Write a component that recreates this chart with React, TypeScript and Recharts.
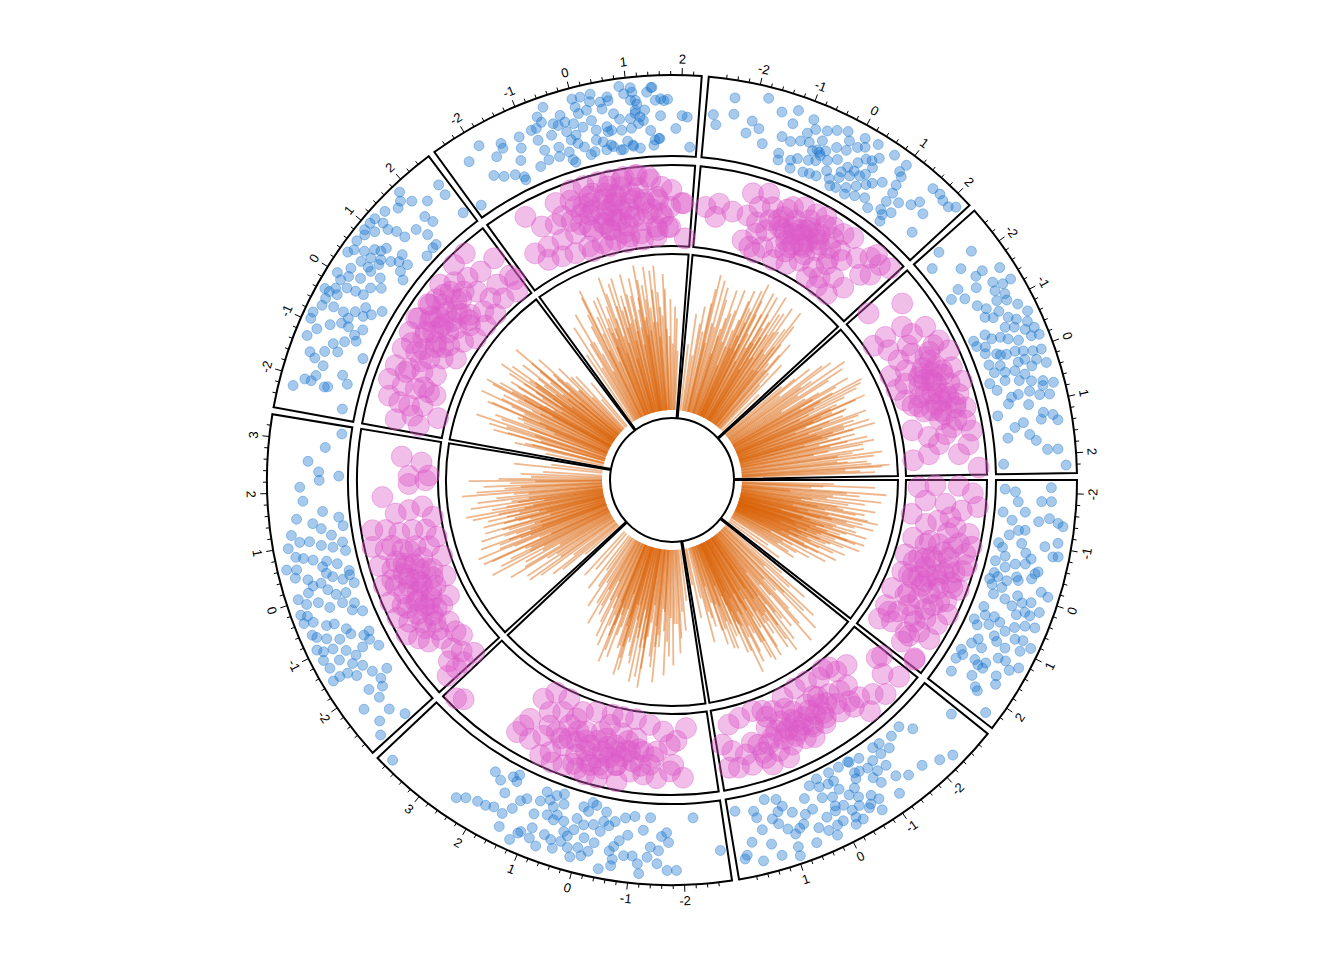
import React from 'react'
import { PieChart, Pie, ScatterChart, Scatter, XAxis, YAxis } from 'recharts'

const W = 1344
const H = 960
const CX = 672
const CY = 480

// sectors clockwise from 3 o'clock, x range of each
const sectors = ['a', 'b', 'c', 'd', 'e', 'f', 'g', 'h']
const xMin = [-2.12, -2.92, -2.71, -2.88, -2.53, -2.5, -2.79, -2.56]
const xMax = [2.31, 1.99, 3.87, 3.27, 2.51, 2.22, 2.17, 2.23]

// track borders in px: points, bubbles, lines
const trackOuter = [405, 315, 226]
const trackInner = [324, 234, 62]
const PAD_R = 8
const GAP_DEG = 1
const PAD_DEG = 1

const blueA = [[-2.05,.02],[-2.0,.18],[-1.8,.23],[-1.83,.59],[-1.84,.74],[-2.1,.73],[-1.56,.01],[-1.41,.16],[-1.22,.28],[-1.24,.38],[-0.97,.36],[-1.44,.57],[-1.52,.73],[-1.45,.87],[-1.4,.95],[-1.09,.91],[-0.83,.87],[-0.85,.95],[-0.99,.72],[-0.71,.55],[-0.5,.7],[-0.45,.66],[-0.59,.48],[-0.54,.33],[-0.43,.19],[-0.26,.05],[-0.9,.01],[-0.82,.08],[-0.51,.02],[-0.11,.01],[-0.01,.07],[-0.01,.23],[-0.17,.27],[-0.24,.44],[-0.34,.63],[-0.15,.83],[-0.1,.95],[0.09,.73],[0.3,.69],[0.27,.47],[0.19,.33],[0.17,.14],[0.49,.07],[0.64,.14],[0.81,.01],[0.9,.09],[0.79,.25],[0.66,.39],[0.78,.52],[0.64,.63],[0.54,.77],[0.33,.78],[0.21,.9],[0.84,.71],[0.8,.83],[0.87,.99],[1.0,.86],[1.07,.63],[1.03,.47],[1.28,.31],[1.29,.14],[1.51,.05],[1.73,.05],[1.59,.11],[1.55,.31],[1.61,.39],[1.5,.48],[1.3,.61],[1.28,.73],[1.28,.96],[1.62,.48],[1.61,.72],[2.0,.54],[2.04,.6],[1.75,.78],[2.01,.1],[2.28,.9],
  [-0.3,.4],[0.05,.5],[0.4,.58],[0.6,.28],[-0.65,.15],[1.15,.2],[0.95,.4],[-1.1,.15],[0.15,.6],[-0.8,.45],[1.4,.85],[0.5,.92],[-0.2,.12],[1.85,.4],[-1.6,.35]]
const blueB = [[-2.9,.5],[-2.16,.22],[-1.98,.05],[-1.73,.08],[-1.43,.05],[-1.27,.04],[-1.54,.2],[-1.33,.19],[-1.11,.2],[-1.07,.37],[-0.92,.42],[-1.27,.38],[-0.94,.25],[-0.76,.22],[-0.66,.2],[-0.62,.29],[-0.68,.02],[-0.66,0],[-0.43,0],[-0.19,0],[0.1,0],[0.3,.05],[0.12,.13],[-0.07,.15],[-0.22,.3],[-0.34,.45],[-0.48,.55],[-0.7,.63],[-0.79,.74],[-0.73,.91],[-0.61,.74],[-0.41,.67],[-0.25,.68],[-0.15,.55],[-0.03,.36],[0.16,.3],[0.43,.4],[0.6,.43],[0.83,.33],[0.98,.19],[1.06,.06],[1.3,.01],[1.58,.14],[1.55,.25],[1.96,.08],[1.25,.33],[1.16,.43],[1.02,.55],[0.91,.66],[0.7,.56],[0.46,.7],[0.31,.8],[0.12,.78],[-0.01,.76],[-0.19,.9],[0.24,.6],[0.04,.57],[1.4,.7],[1.27,.91],[0.94,.86],[0.96,1.0],[1.89,.78],[1.62,.92],[1.94,.83],[-1.81,.73],[-2.12,.85],[-2.35,.94],[-1.5,.71],[-1.16,.85],[-0.25,.8],
  [-0.5,.4],[-0.2,.15],[0.5,.2],[0.8,.6],[-1.0,.55],[-0.35,.88],[1.1,.25],[0.2,.92],[-1.3,.6],[0.6,.9],[-0.9,.05],[1.5,.45],[0,.5],[-0.55,.78],[1.75,.6]]
const blueC = [[3.78,.98],[2.08,.14],[1.9,.21],[1.7,.07],[1.6,0],[1.59,.11],[2.08,.67],[1.91,.66],[1.76,.62],[1.56,.65],[1.43,.51],[1.35,.35],[1.25,.28],[0.98,.23],[0.92,.06],[0.8,.16],[0.7,.06],[0.56,0],[0.69,.24],[0.75,.39],[0.56,.34],[0.6,.43],[0.4,.4],[0.16,.3],[0.09,.1],[-0.03,.15],[-0.08,0],[-0.17,.03],[0,.37],[-0.19,.33],[-0.38,.25],[-0.61,.22],[-0.81,.14],[-1.0,.1],[-1.33,.1],[-1.67,.32],[-1.71,.47],[-1.57,.38],[-1.52,.6],[-1.31,.71],[-1.14,.82],[-1.03,.71],[-0.87,.72],[-0.66,.6],[-0.59,.68],[-0.67,.8],[-0.66,.9],[-0.45,.98],[-0.09,.84],[0,.73],[0.19,.77],[0.34,.71],[0.53,.73],[0.67,.69],[0.34,.55],[0.16,.48],[-0.07,.56],[-0.28,.6],[-0.35,.41],[1.23,.96],[1.14,.82],[0.91,.82],[0.93,.66],[-1.18,.97],[-1.69,.9],[-1.36,.55],[1.1,.78],[-2.22,.1],[-2.7,.64],[-1.86,.9],[2.3,.72],[2.45,.8],
  [-0.5,.3],[0.25,.6],[0.5,.15],[-0.9,.4],[1.0,.45],[-0.2,.75],[0.75,.9],[-1.2,.3],[1.5,.85],[-0.4,.1],[0.1,.9],[1.7,.35],[-1.5,.8],[0.45,.85],[-0.75,.5]]
const blueD = [[1.83,.58],[1.6,.29],[1.38,.46],[1.26,.34],[1.45,.05],[1.26,0],[1.21,.81],[0.98,.89],[1.06,.7],[1.04,.55],[0.93,.38],[0.85,.21],[0.92,.05],[0.73,.03],[0.75,.69],[0.68,.55],[0.51,.43],[0.37,.4],[0.57,.83],[0.61,.98],[0.43,.88],[0.34,.7],[0.2,.65],[0.21,.52],[0.27,.32],[0.16,.18],[0.21,.06],[0.02,.03],[-0.12,.2],[-0.09,.35],[0.05,.45],[0.04,.93],[-0.09,.83],[-0.13,.65],[-0.29,.51],[-0.29,.3],[-0.38,.13],[-0.6,.06],[-0.24,.97],[-0.4,.97],[-0.44,.83],[-0.59,.66],[-0.62,.54],[-0.72,.87],[-0.82,.74],[-0.93,.56],[-0.93,.37],[-1.07,.2],[-1.04,.1],[-1.27,.3],[-1.4,.07],[-0.93,.95],[-1.01,.87],[-1.04,.72],[-1.18,.55],[-1.35,.45],[-1.15,.93],[-1.33,.9],[-1.28,.71],[-1.46,.56],[-1.59,.44],[-1.57,.7],[-1.55,.83],[-1.56,.95],[-1.79,.36],[-2.0,.31],[-2.15,.36],[-2.05,.56],[-2.29,.5],[-2.59,.49],[-2.86,.35],[-2.65,.72],[-2.86,.85],[2.4,.33],[2.23,.32],[2.32,.02],[3.22,.02],[2.6,.5],[2.1,.62],[2.9,.25],
  [-0.5,.2],[0.1,.75],[-0.8,.4],[0.5,.2],[-1.2,.15],[0.8,.8],[-0.3,.88],[1.5,.7],[-1.7,.6],[0.3,.05],[-2.3,.8],[1.1,.2],[-0.65,.92],[0.6,.35],[-1.9,.15]]
const blueE = [[-2.43,.08],[-2.03,.75],[-2.03,.65],[-1.91,.6],[-2.08,.43],[-2.06,.38],[-1.69,.54],[-1.75,.21],[-1.28,0],[-1.34,.4],[-1.42,.59],[-1.52,.8],[-1.22,.51],[-1.1,.36],[-0.9,.26],[-0.73,.18],[-1.26,.93],[-1.08,.83],[-0.91,.67],[-0.79,.52],[-0.65,.46],[-0.48,.27],[-0.37,.17],[-0.47,.41],[-0.58,.57],[-0.58,.74],[-0.65,.91],[-0.95,.98],[-0.83,.99],[-0.37,.91],[-0.35,.78],[-0.15,.7],[-0.12,.56],[-0.1,.43],[0.09,.39],[0.36,.35],[0.56,.49],[0.36,.53],[0.14,.6],[0.05,.77],[-0.08,.85],[-0.26,.85],[-0.36,.99],[-0.51,.91],[0.2,.81],[0.41,.74],[0.57,.65],[0.66,.51],[0.75,.37],[0.85,.27],[0.91,.14],[0.71,.16],[0.6,.79],[0.74,.68],[0.79,.59],[0.51,.93],[0.41,.99],[0.67,.98],[0.84,.94],[1.0,.85],[1.22,.84],[1.19,.72],[1.27,.6],[0.91,.99],[1.06,.99],[1.18,.98],[1.4,.94],[1.61,.83],[1.88,.76],[1.86,.45],[1.65,.22],[1.63,.02],[1.53,.02],[1.32,0],[1.56,.4],[1.83,.99],[1.73,.88],[2.46,.68],[2.44,.5],[1.91,.31],[2.5,.11],
  [-0.3,.3],[0.2,.25],[0.4,.6],[-0.8,.4],[1.0,.3],[-1.0,.2],[0,.95],[1.3,.45],[-1.6,.7],[-0.2,.05],[0.6,.05],[-2.2,.9],[2.1,.6],[0.9,.55],[-1.9,.1]]
const blueF = [[-2.48,.04],[-1.89,.83],[-1.51,.7],[-1.52,.62],[-1.76,.23],[-1.93,.32],[-1.54,.17],[-1.31,.33],[-1.39,.08],[-1.39,.03],[-1.15,.67],[-0.89,.69],[-0.54,.96],[-0.66,.75],[-0.79,.69],[-0.84,.51],[-0.79,.33],[-0.56,.51],[-0.38,.62],[-0.24,.64],[-0.26,.49],[-0.22,.35],[-0.11,.27],[0,.19],[0.1,.05],[0.19,.08],[0.07,.49],[-0.09,.58],[0.05,.71],[0.21,.73],[0.26,.56],[0.31,.4],[0.27,.25],[0.44,.07],[0.59,.1],[0.79,.03],[1.01,.06],[1.15,.02],[1.44,.05],[1.55,.15],[1.39,.28],[1.16,.4],[1.01,.49],[1.01,.34],[1.12,.61],[1.16,.7],[1.05,.77],[0.94,.88],[0.87,1.0],[0.63,.87],[0.49,.81],[0.34,.96],[0.15,.95],[0.02,.82],[-0.29,.76],[-0.46,.67],[0.5,.7],[0.7,.6],[0.61,.35],[-0.55,.16],[-0.33,.18],[-0.78,.17],[-0.99,.12],[1.44,.94],[1.61,.76],[1.74,.75],[0.53,.42],[-0.26,0],[1.26,.44],[0.64,.81],[1.07,.96],[1.09,.89],[1.14,.76],[1.36,.87],[1.46,.94],[1.51,.74],[1.67,.73],[2.02,.5],[2.12,.48],[2.2,.02],[1.11,.56],[1.2,.5],[1.47,.13],[1.57,.15],[1.0,.08],[0.74,.03],[0.55,.13],[0.54,.34],[0.81,.33],
  [-0.5,.3],[0.4,.2],[-0.1,.4],[0.8,.5],[-1.2,.5],[0.3,.85],[-0.7,.85],[1.3,.6],[-1.7,.55],[0,.95],[1.9,.3],[-2.2,.7],[0.9,.15],[-0.3,.05],[1.6,.5]]
const blueG = [[-1.8,.95],[-1.22,.9],[-2.76,.55],[-2.69,.4],[-2.37,.6],[-2.0,.55],[-1.84,.46],[-2.07,.35],[-1.24,.68],[-1.36,.44],[-1.17,.41],[-0.99,.47],[-0.92,.62],[-0.8,.72],[-0.59,.77],[-0.43,.84],[-0.24,.9],[-0.14,.78],[-0.11,.63],[0.05,.75],[0.09,.93],[0.17,.81],[-0.7,.4],[-0.56,.42],[-0.46,.48],[-0.82,.5],[-1.32,.18],[-1.29,.08],[-1.04,.14],[-0.92,.2],[-0.7,.24],[-0.56,.28],[-0.35,.36],[-0.18,.44],[0.07,.41],[0.22,.41],[0.3,.66],[0.41,.69],[0.49,.6],[0.44,.46],[0.36,.39],[0.19,.31],[0.02,.21],[-0.07,.03],[0.06,.05],[0.25,.13],[0.41,.23],[0.56,.33],[0.65,.4],[-0.99,.02],[-0.71,.04],[-0.57,.06],[-0.42,.07],[-0.27,.21],[0.29,.03],[0.49,.09],[0.69,.15],[0.86,.05],[1.24,0],[1.19,.1],[1.31,.21],[1.09,.3],[1.09,.46],[1.05,.59],[1.03,.74],[0.98,.93],[0.7,.95],[0.95,.79],[1.51,.5],[1.6,.62],[1.8,.52],[1.62,.91],[1.78,.92],[1.9,.88],[2.05,.87],[2.15,.95],[-0.62,.44],[-0.52,.38],
  [-0.3,.6],[0.2,.55],[-0.6,.6],[0,.3],[0.5,.78],[-1.5,.8],[0.8,.5],[-0.9,.85],[1.3,.4],[-0.15,.12],[0.35,.95],[-1.7,.25],[1.1,.15],[-2.4,.85],[1.9,.2]]
const blueH = [[-2.53,.29],[-2.15,.69],[-2.36,.05],[-1.69,.18],[-1.45,.19],[-1.59,.01],[-1.71,.52],[-1.73,.65],[-1.52,.43],[-1.44,.69],[-1.32,.81],[-1.32,.95],[-1.28,.65],[-1.14,.76],[-1.02,.74],[-0.86,.86],[-1.1,.6],[-1.06,.4],[-0.92,.32],[-0.84,.43],[-0.72,.64],[-0.62,.74],[-0.67,.95],[-0.57,.53],[-0.5,.66],[-0.38,.8],[-0.35,.94],[-0.34,.5],[-0.24,.64],[-0.23,.85],[-0.2,.97],[-0.58,0],[-0.45,.01],[-0.37,.13],[-0.47,.27],[-0.43,.4],[-0.24,.09],[-0.15,.25],[-0.07,.39],[-0.07,.53],[-0.02,.65],[0.04,.79],[0.06,.92],[0.15,.52],[0.14,.63],[0.21,.8],[0.32,.93],[0.01,.08],[0.1,.24],[0.26,.28],[0.29,.43],[0.41,.56],[0.57,.63],[0.62,.8],[0.71,.78],[0.89,.85],[0.39,0],[0.57,.08],[0.42,.24],[0.78,.27],[0.76,.38],[0.75,.56],[0.86,.7],[1.1,0],[1.4,.23],[1.58,.44],[1.71,.53],[1.33,.37],[1.9,.69],[1.91,.85],[1.38,.9],[1.27,.84],[1.32,.65],[2.14,0],[2.21,.96],
  [-0.6,.2],[0.2,.12],[-0.9,.55],[0.5,.45],[-0.1,.3],[1.0,.5],[-1.6,.9],[0.9,.2],[-2.0,.4],[1.2,.7],[0.3,.7],[-0.5,.88],[1.6,.1],[-1.2,.3],[0.7,.95]]

const pinkA = [[-2.04,.07],[-2.1,.33],[-2.1,.69],[-1.93,.91],[-1.62,1],[-1.5,.76],[-1.63,.5],[-1.67,.19],[-1.25,0],[-1.03,.24],[-1.17,.42],[-1.07,.7],[-0.97,.92],[-0.69,1],[-0.49,.93],[-0.57,.72],[-0.57,.5],[-0.49,.3],[-0.58,.09],[-0.06,.05],[-0.08,.26],[-0.13,.52],[-0.07,.75],[-0.09,.96],[-0.24,1],[0.44,.09],[0.5,.27],[0.45,.47],[0.33,.66],[0.36,.9],[0.35,1],[0.99,.05],[1.0,.28],[0.93,.48],[0.93,.73],[0.71,.89],[1.51,.09],[1.49,.3],[1.39,.52],[1.3,.72],[1.94,.11],[1.81,.3],[1.85,.57],[1.66,.74],[1.29,.92],[0.97,1],[2.1,.6],[2.25,.91],[1.88,.64],[1.68,.93],[1.63,.18],[2.28,.92],[0.2,.6],[0.5,.7],[-0.3,.7],[0.7,.6],[0.1,.4],[-0.6,.35],[0.4,.35],[1.1,.65],[-0.9,.6],[0,.85],
  [-0.2,.45],[0.3,.5],[0.6,.45],[-0.4,.6],[0.1,.7],[0.8,.8],[-0.7,.8],[0.45,.2],[0.05,.2],[1.2,.4],[-1.3,.6],[0.25,.85],[-0.1,.35],[0.9,.3],[1.5,.6]]
const pinkB = [[-2.9,.49],[-2.77,.45],[-2.78,.9],[-2.27,.93],[-2.05,.79],[-1.75,.69],[-1.5,.64],[-1.47,.42],[-1.74,.16],[-2.07,.19],[-1.65,.04],[-1.24,.07],[-0.87,0],[-0.48,0],[-0.04,.03],[0.39,.15],[0.65,.09],[0.92,.04],[1.34,.08],[1.68,.14],[1.96,.42],[1.74,.55],[1.43,.65],[1.06,.56],[0.66,.53],[0.27,.52],[-0.03,.6],[-0.41,.61],[-0.78,.63],[-1.16,.68],[-0.52,.3],[-0.11,.29],[-0.82,.4],[-1.19,.36],[-0.1,.75],[0.26,.75],[0.62,.76],[0.98,.79],[1.34,.83],[1.67,.82],[1.9,.79],[0.88,.92],[0.46,.91],[-0.82,.25],[-1.47,0],[-1.71,.43],[-1.73,.96],[-2.57,.68],[-0.6,.5],[-0.3,.45],[0,.4],[0.3,.35],[-0.8,.55],[0.5,.45],[-0.4,.65],[0.1,.65],[0.7,.35],[-1.0,.45],
  [-0.7,.7],[-0.2,.55],[0.2,.5],[0.4,.62],[-0.5,.4],[-1.2,.55],[0.8,.6],[-0.9,.3],[0.05,.2],[1.2,.5],[-1.5,.75],[0.6,.2],[-0.3,.8],[1.0,.7],[-0.05,.45]]
const pinkC = [[1.99,.18],[1.76,0],[1.33,0],[1.33,.22],[1.66,.31],[2.02,.55],[2.08,.69],[2.13,.83],[1.78,.82],[1.52,.68],[1.26,.54],[1.02,.36],[0.82,.1],[0.45,.03],[-0.02,0],[-0.33,0],[-0.72,0],[-1.14,.06],[-1.53,.15],[-1.72,.35],[-1.38,.46],[-1.03,.48],[-0.69,.5],[-0.35,.54],[-0.02,.59],[0.35,.55],[0.7,.56],[0.98,.69],[1.2,.86],[1.39,.97],[1.08,1],[0.8,.97],[0.48,.95],[0.2,.84],[-0.12,.84],[-0.42,.74],[-0.76,.81],[-1.09,.83],[-1.41,.87],[-1.73,.76],[-0.49,.99],[-0.03,1],[0.27,1],[-0.02,.38],[0.54,.37],[0.92,.23],[-0.02,.16],[-0.81,.29],[-1.23,.67],[3.75,1],[3.61,.93],[-2.18,.1],[-1.9,.29],[-2.04,.86],[-1.81,.66],[-0.5,.6],[-0.2,.65],[0.1,.7],[0.4,.65],[-0.8,.65],[0.6,.75],[-0.3,.45],[0.2,.45],[-0.6,.35],[0.9,.55],
  [-0.4,.75],[0,.8],[0.3,.8],[-0.6,.5],[-0.1,.5],[0.5,.5],[-1.0,.7],[0.75,.4],[-1.3,.55],[1.1,.6],[-0.9,.45],[0.15,.3],[-0.4,.25],[1.5,.5],[0.6,.9]]
const pinkD = [[2.13,.33],[2.23,.07],[1.82,.74],[1.38,.56],[1.43,.35],[1.49,.14],[1.16,0],[1.06,.95],[1.01,.75],[0.88,.55],[0.89,.34],[0.83,.14],[0.56,0],[0.68,1],[0.55,.81],[0.45,.56],[0.45,.35],[0.35,.15],[-0.02,0],[0.21,.97],[0.05,.79],[0.02,.58],[-0.17,.4],[-0.28,.21],[-0.6,.06],[-0.25,1],[-0.35,.83],[-0.48,.64],[-0.6,.45],[-0.74,.26],[-1.15,.14],[-0.66,1],[-0.85,.85],[-0.91,.64],[-1.13,.48],[-1.3,.3],[-1.06,1],[-1.27,.87],[-1.43,.7],[-1.59,.52],[-1.77,.34],[-2.09,.34],[-1.5,1],[-1.73,.87],[-1.92,.77],[-2.04,.57],[-2.39,.54],[-2.61,.45],[-2.85,.32],[-2.6,.7],[-2.85,.68],[-2.85,.86],[-2.85,.54],[-2.27,.29],[2.35,.33],[2.37,.02],[2.73,.14],[2.85,.45],[-0.3,.6],[-0.6,.75],[-0.9,.6],[-1.2,.7],[0,.45],[-0.5,.45],[-1.0,.4],[-0.2,.3],[-1.4,.5],[0.2,.7],
  [-0.4,.5],[-0.7,.55],[-1.1,.55],[-0.15,.65],[0.1,.6],[-0.8,.35],[-1.3,.4],[-0.5,.25],[0.35,.45],[-1.6,.7],[-0.2,.85],[-0.95,.8],[0.6,.7],[-1.8,.55],[0.1,.3]]
const pinkE = [[1.95,1],[1.59,.99],[2.41,.65],[1.94,.63],[2.03,.31],[2.45,.29],[2.5,.2],[1.03,.94],[1.06,.75],[1.28,.6],[1.51,.45],[1.64,.23],[1.9,.09],[2.33,.03],[0.51,.87],[0.7,.71],[0.78,.48],[0.93,.29],[1.24,.17],[1.41,0],[0.06,.93],[0.18,.73],[0.29,.53],[0.41,.33],[0.7,.19],[-0.29,.91],[-0.27,.68],[-0.18,.48],[-0.08,.28],[0.21,.13],[-0.71,.89],[-0.64,.68],[-0.64,.45],[-0.48,.27],[-0.3,.09],[-1.14,.88],[-1.09,.67],[-1.04,.46],[-0.97,.25],[-1.5,.9],[-1.54,.67],[-1.51,.46],[-1.48,.25],[-1.88,.82],[-1.96,.64],[-1.98,.48],[-1.89,.28],[-1.5,.14],[-2.4,.63],[-2.21,.39],[-2.44,.26],[-2.1,0],[0.5,0],[0.97,0],[0,.6],[0.3,.75],[0.6,.6],[0.9,.8],[-0.3,.45],[0.2,.4],[0.8,.4],[1.1,.55],[-0.5,.8],[0.5,.9],
  [-0.1,.7],[0.4,.65],[0.7,.85],[0.2,.55],[-0.5,.6],[1.0,.6],[-0.8,.55],[0.5,.45],[-0.2,.35],[1.3,.8],[-1.2,.7],[0.1,.9],[0.8,.25],[-1.4,.35],[1.6,.7]]
const pinkF = [[-1.78,.91],[-1.54,.66],[-1.0,.9],[-0.97,.67],[-0.58,.74],[-0.24,.72],[0.11,.72],[0.45,.72],[0.79,.74],[1.1,.61],[1.44,.64],[1.78,.48],[-1.63,.34],[-1.21,.34],[-0.81,.35],[-0.41,.38],[-0.04,.37],[0.32,.37],[0.7,.38],[1.04,.3],[1.39,.18],[1.77,.17],[-2.03,.35],[-1.8,.16],[-1.41,.11],[-1.03,.07],[-0.59,.09],[-0.2,.07],[0.2,.07],[0.6,.08],[0.97,0],[1.37,.03],[-0.56,1],[-0.25,1],[0.09,1],[0.37,.99],[0.69,1],[1.01,1],[1.31,.91],[-0.54,0],[-0.01,0],[0.51,0],[-0.19,.82],[1.59,.33],[0.29,.9],[0.64,.96],[0.96,1],[1.26,.96],[1.57,.79],[1.81,.74],[2.07,.54],[1.47,.59],[1.12,.56],[0.8,.63],[0.37,.63],[0.45,.36],[0.82,.37],[1.19,.4],[1.54,.38],[0.94,.1],[0.46,.15],[0.12,.24],[1.42,.13],[2.2,0],[1.71,.17],[2.12,.54],[-0.3,.55],[0,.5],[0.3,.6],[-0.1,.85],[0.2,.8],[-0.6,.45],[0.5,.5],[-0.4,.7],[0.1,.25],[0.6,.85],
  [-0.2,.6],[0.15,.55],[0.4,.75],[-0.5,.6],[0.7,.5],[-0.8,.55],[1.0,.8],[0,.35],[-0.35,.3],[0.6,.25],[-1.2,.6],[1.3,.45],[0.25,.45],[-0.65,.85],[0.9,.65]]
const pinkG = [[-2.69,.51],[-2.36,.59],[-1.99,.51],[-1.61,.86],[-1.24,.93],[-1.59,.51],[-1.36,.69],[-1.05,.75],[-0.72,.67],[-0.6,.87],[-0.35,.94],[-0.03,.93],[0.21,.96],[-1.22,.28],[-1.0,.38],[-0.71,.51],[-0.39,.59],[-0.05,.64],[0.28,.69],[0.48,.89],[0.76,.89],[1.0,.93],[-1.29,.06],[-0.93,.12],[-0.58,.2],[-0.24,.29],[0.08,.39],[0.42,.45],[0.68,.6],[0.92,.65],[1.36,.72],[1.61,.86],[1.89,.88],[2.11,.95],[-0.51,0],[-0.11,.04],[0.18,.18],[0.6,.2],[0.85,.36],[0.6,.02],[0.91,.13],[1.21,.26],[0.99,0],[1.36,0],[1.6,.24],[1.7,.56],[1.89,.67],[-1.1,0],[-1.53,.12],[-2.4,.38],[1.68,.96],[-0.5,.45],[-0.3,.5],[-0.1,.55],[0.1,.5],[-0.8,.6],[-0.4,.7],[0,.7],[0.3,.6],[-0.2,.35],[0.2,.3],
  [-0.6,.5],[-0.2,.6],[0.15,.65],[-0.4,.35],[0,.4],[0.4,.55],[-1.0,.55],[0.6,.75],[-0.7,.8],[-0.1,.8],[0.3,.85],[-1.3,.45],[0.8,.45],[-0.3,.2],[1.1,.55]]
const pinkH = [[-2.51,.24],[-1.71,.23],[-2.16,.74],[-1.69,0],[-1.35,.16],[-1.69,.53],[-1.4,.6],[-1.38,.83],[-0.94,.91],[-0.63,.98],[-0.24,.92],[0.14,.99],[0.41,.88],[0.7,.78],[0.8,.6],[0.62,.42],[0.43,.24],[0.15,.07],[-0.23,0],[-0.67,0],[-0.63,.25],[-0.32,.39],[-0.11,.56],[-0.26,.76],[-0.73,.61],[-0.96,.45],[-0.97,.22],[-0.3,.16],[0.15,.4],[0.26,.59],[1.03,.05],[1.3,.28],[1.53,.42],[1.16,.66],[1.06,.88],[1.32,.95],[1.63,.87],[2.19,1],[1.84,.71],[1.77,.25],[1.9,0],[0.41,.72],[0.76,.93],[-0.5,.5],[-0.2,.45],[0,.6],[0.3,.7],[0.5,.5],[-0.8,.7],[0.2,.3],[0.6,.8],[-0.4,.7],[0.9,.5],
  [-0.4,.45],[-0.1,.35],[0.2,.5],[0.1,.8],[-0.6,.65],[0.45,.6],[-0.3,.6],[0.7,.55],[-0.9,.8],[1.0,.75],[-1.2,.45],[0.35,.15],[-0.15,.75],[1.3,.55],[0.6,.3]]

const lineA = [[-2.06,.62],[-1.97,.9],[-1.86,.47],[-1.74,.98],[-1.69,.71],[-1.58,.33],[-1.47,.95],[-1.41,.58],[-1.33,.84],[-1.19,.41],[-1.12,.92],[-1.08,.66],[-0.96,.53],[-0.9,.79],[-0.81,.36],[-0.77,.88],[-0.68,.61],[-0.66,.47],[-0.55,.74],[-0.49,.93],[-0.47,.56],[-0.36,.29],[-0.33,.68],[-0.27,.82],[-0.19,.44],[-0.14,.6],[-0.11,.76],[-0.02,.37],[0.03,.63],[0.06,.51],[0.15,.84],[0.19,.42],[0.24,.7],[0.31,.57],[0.37,.31],[0.43,.77],[0.52,.47],[0.56,.65],[0.63,.39],[0.71,.55],[0.77,.72],[0.86,.34],[0.94,.52],[1.03,.63],[1.17,.28],[1.26,.45],[1.41,.59],[1.58,.36],[1.77,.5],[1.98,.31],[2.2,.42],[-0.6,.85],[0.1,.9],[-0.25,.5],[0.45,.6],
  [-1.93,.55],[-1.62,.8],[-1.28,.48],[-1.02,.7],[-0.86,.58],[-0.72,.95],[-0.61,.4],[-0.52,.64],[-0.42,.8],[-0.3,.45],[-0.22,.66],[-0.16,.9],[-0.06,.55],[0,.72],[0.09,.4],[0.12,.78],[0.21,.6],[0.27,.5],[0.34,.88],[0.4,.44],[0.48,.68],[0.59,.52],[0.67,.8],[0.74,.46],[0.82,.62],[0.9,.4],[1.07,.55],[1.22,.7],[1.35,.38],[1.5,.5],[-1.54,.62],[-1.24,.73],[-0.96,.85],[0.99,.76],[1.67,.45]]
const lineB = [[-2.86,.5],[-2.71,.72],[-2.52,.38],[-2.43,.85],[-2.26,.6],[-2.17,.92],[-2.0,.44],[-1.93,.7],[-1.78,.96],[-1.72,.55],[-1.57,.8],[-1.51,.33],[-1.4,.66],[-1.35,.88],[-1.23,.5],[-1.18,.74],[-1.06,.62],[-1.01,.9],[-0.9,.41],[-0.86,.77],[-0.74,.58],[-0.7,.86],[-0.58,.47],[-0.55,.69],[-0.43,.93],[-0.38,.54],[-0.28,.78],[-0.24,.4],[-0.13,.64],[-0.08,.83],[0.02,.52],[0.06,.71],[0.17,.36],[0.22,.6],[0.34,.8],[0.38,.45],[0.5,.67],[0.57,.3],[0.69,.55],[0.76,.74],[0.91,.42],[1.0,.6],[1.16,.28],[1.28,.5],[1.47,.66],[1.6,.35],[1.81,.48],[1.94,.25],[-0.95,.68],[-0.33,.9],[0.28,.58],
  [-2.6,.6],[-2.3,.78],[-2.05,.55],[-1.85,.82],[-1.65,.45],[-1.46,.72],[-1.3,.58],[-1.12,.85],[-0.98,.5],[-0.8,.68],[-0.66,.92],[-0.6,.4],[-0.5,.6],[-0.4,.78],[-0.32,.48],[-0.2,.7],[-0.11,.55],[-0.03,.9],[0.04,.42],[0.12,.62],[0.2,.8],[0.29,.5],[0.36,.66],[0.45,.38],[0.54,.58],[0.63,.75],[0.72,.44],[0.84,.6],[0.96,.7],[1.1,.4],[1.22,.56],[1.38,.45],[-1.2,.95],[-0.9,.63],[0.15,.96]]
const lineC = [[-2.62,.35],[-2.43,.55],[-2.32,.42],[-2.13,.7],[-2.02,.5],[-1.83,.78],[-1.72,.46],[-1.56,.62],[-1.47,.85],[-1.31,.4],[-1.22,.66],[-1.08,.9],[-1.02,.52],[-0.88,.73],[-0.82,.38],[-0.68,.6],[-0.62,.82],[-0.48,.48],[-0.42,.68],[-0.28,.92],[-0.22,.55],[-0.08,.75],[-0.02,.4],[0.12,.63],[0.18,.86],[0.32,.5],[0.38,.7],[0.52,.34],[0.58,.58],[0.72,.8],[0.8,.45],[0.96,.66],[1.04,.52],[1.22,.75],[1.32,.4],[1.52,.6],[1.64,.3],[1.84,.5],[1.98,.65],[2.22,.35],[2.38,.55],[2.67,.28],[2.88,.45],[3.22,.32],[3.48,.4],[-1.4,.55],[-0.55,.62],[0.25,.7],[0.9,.58],
  [-2.2,.6],[-1.9,.5],[-1.65,.72],[-1.4,.42],[-1.15,.58],[-0.95,.8],[-0.76,.5],[-0.58,.68],[-0.45,.88],[-0.35,.42],[-0.25,.62],[-0.14,.8],[-0.05,.5],[0.05,.66],[0.14,.4],[0.24,.78],[0.35,.56],[0.45,.72],[0.55,.45],[0.65,.64],[0.76,.5],[0.88,.76],[1.0,.42],[1.12,.6],[1.27,.48],[1.42,.7],[1.58,.44],[1.75,.56],[1.92,.38],[2.1,.5],[2.5,.4],[-1.05,.66],[0.3,.9],[0.95,.85],[-0.6,.95]]
const lineD = [[-2.78,.3],[-2.62,.48],[-2.38,.36],[-2.22,.62],[-2.03,.44],[-1.92,.7],[-1.73,.52],[-1.62,.8],[-1.46,.4],[-1.38,.66],[-1.22,.9],[-1.14,.5],[-0.98,.74],[-0.92,.58],[-0.78,.86],[-0.72,.42],[-0.58,.68],[-0.52,.94],[-0.38,.55],[-0.32,.77],[-0.18,.46],[-0.12,.64],[0.02,.88],[0.08,.5],[0.22,.72],[0.28,.38],[0.42,.6],[0.48,.84],[0.62,.45],[0.68,.67],[0.82,.9],[0.9,.54],[1.06,.76],[1.14,.4],[1.3,.62],[1.4,.85],[1.58,.5],[1.68,.95],[1.87,.66],[1.98,.8],[2.17,.45],[2.28,.7],[2.52,.55],[2.68,.4],[2.97,.6],[3.13,.35],[-1.05,.6],[-0.25,.7],[0.55,.62],[1.22,.58],
  [-2.5,.55],[-2.1,.7],[-1.8,.45],[-1.55,.68],[-1.3,.52],[-1.08,.82],[-0.86,.62],[-0.65,.5],[-0.46,.78],[-0.35,.62],[-0.24,.9],[-0.15,.54],[-0.05,.72],[0.05,.46],[0.14,.68],[0.25,.84],[0.35,.52],[0.45,.7],[0.56,.4],[0.66,.8],[0.75,.58],[0.86,.72],[0.97,.48],[1.1,.66],[1.22,.9],[1.35,.5],[1.5,.72],[1.62,.6],[1.78,.85],[1.92,.55],[2.1,.62],[2.4,.48],[-0.75,.92],[0.95,.94],[2.2,.9]]
const lineE = [[-2.47,.4],[-2.28,.62],[-2.17,.5],[-1.98,.78],[-1.9,.45],[-1.73,.7],[-1.64,.92],[-1.48,.55],[-1.42,.8],[-1.28,.38],[-1.22,.65],[-1.08,.88],[-1.02,.5],[-0.88,.72],[-0.82,.95],[-0.68,.58],[-0.62,.8],[-0.48,.44],[-0.42,.66],[-0.28,.86],[-0.22,.52],[-0.08,.74],[-0.02,.4],[0.12,.62],[0.18,.84],[0.32,.5],[0.38,.7],[0.52,.36],[0.58,.6],[0.72,.8],[0.78,.46],[0.94,.68],[1.02,.34],[1.18,.56],[1.28,.74],[1.46,.4],[1.58,.6],[1.78,.3],[1.9,.48],[2.12,.25],[2.28,.38],[-1.15,.62],[-0.35,.76],[0.45,.66],
  [-2.2,.55],[-1.95,.68],[-1.7,.5],[-1.5,.75],[-1.32,.6],[-1.15,.45],[-0.95,.62],[-0.78,.8],[-0.64,.52],[-0.54,.7],[-0.45,.9],[-0.35,.55],[-0.25,.68],[-0.15,.45],[-0.05,.8],[0.05,.56],[0.15,.72],[0.24,.42],[0.35,.64],[0.45,.85],[0.55,.5],[0.66,.66],[0.75,.42],[0.86,.58],[0.98,.76],[1.1,.44],[1.22,.6],[1.36,.5],[1.52,.4],[1.7,.5],[-1.05,.85],[-0.4,.95],[0.3,.92],[1.0,.9],[-1.8,.82]]
const lineF = [[-2.42,.55],[-2.23,.75],[-2.12,.42],[-1.93,.82],[-1.84,.6],[-1.68,.36],[-1.6,.7],[-1.44,.9],[-1.37,.5],[-1.22,.74],[-1.15,.4],[-1.0,.64],[-0.94,.86],[-0.8,.55],[-0.74,.78],[-0.6,.44],[-0.54,.68],[-0.4,.92],[-0.34,.5],[-0.2,.72],[-0.14,.38],[0,.62],[0.06,.96],[0.2,.56],[0.26,.8],[0.4,.46],[0.46,.7],[0.6,.9],[0.66,.52],[0.8,.76],[0.86,.98],[1.0,.6],[1.08,.82],[1.24,.5],[1.33,.7],[1.5,.92],[1.58,.55],[1.76,.75],[1.86,.45],[2.04,.62],[2.13,.4],[-0.9,.6],[-0.1,.82],[0.7,.64],
  [-2.0,.6],[-1.75,.5],[-1.52,.78],[-1.3,.62],[-1.1,.85],[-0.96,.5],[-0.85,.7],[-0.7,.62],[-0.58,.86],[-0.47,.55],[-0.36,.76],[-0.26,.95],[-0.17,.6],[-0.07,.74],[0.03,.5],[0.12,.82],[0.22,.64],[0.32,.92],[0.42,.58],[0.52,.78],[0.63,.62],[0.73,.86],[0.84,.55],[0.94,.7],[1.05,.95],[1.16,.6],[1.28,.8],[1.42,.64],[1.55,.82],[1.7,.5],[1.95,.7],[-1.4,.95],[0.55,1.0],[1.2,.98],[-0.65,.98]]
const lineG = [[-2.72,.45],[-2.53,.66],[-2.42,.38],[-2.23,.72],[-2.12,.55],[-1.96,.85],[-1.88,.48],[-1.72,.92],[-1.64,.6],[-1.48,.8],[-1.42,.42],[-1.28,.68],[-1.22,.88],[-1.08,.52],[-1.02,.75],[-0.88,.36],[-0.82,.62],[-0.68,.84],[-0.62,.5],[-0.48,.7],[-0.42,.94],[-0.28,.55],[-0.22,.78],[-0.08,.44],[-0.02,.96],[0.12,.6],[0.18,.82],[0.32,.4],[0.38,.66],[0.52,.86],[0.58,.52],[0.72,.74],[0.78,.94],[0.92,.58],[1.0,.8],[1.16,.46],[1.24,.7],[1.42,.5],[1.53,.74],[1.72,.4],[1.84,.6],[2.07,.35],[-1.35,.6],[-0.55,.8],[0.25,.72],
  [-2.3,.6],[-2.0,.75],[-1.78,.62],[-1.55,.88],[-1.36,.55],[-1.15,.72],[-0.96,.9],[-0.85,.5],[-0.74,.7],[-0.64,.92],[-0.54,.6],[-0.45,.78],[-0.36,.5],[-0.26,.88],[-0.16,.64],[-0.05,.8],[0.05,.55],[0.15,.95],[0.25,.6],[0.35,.78],[0.45,.5],[0.55,.7],[0.64,.88],[0.76,.6],[0.86,.76],[0.96,.45],[1.08,.66],[1.2,.85],[1.34,.55],[1.48,.64],[1.65,.5],[-1.9,.95],[-0.3,1.0],[0.4,.98],[1.1,.95]]
const lineH = [[-2.52,.5],[-2.33,.72],[-2.22,.45],[-2.03,.86],[-1.94,.6],[-1.78,.94],[-1.7,.55],[-1.54,.78],[-1.47,.4],[-1.32,.68],[-1.25,.9],[-1.1,.52],[-1.04,.76],[-0.9,.96],[-0.84,.6],[-0.7,.82],[-0.64,.48],[-0.5,.7],[-0.44,.88],[-0.3,.56],[-0.24,.78],[-0.1,.42],[-0.04,.66],[0.1,.86],[0.16,.5],[0.3,.74],[0.36,.92],[0.5,.58],[0.56,.8],[0.7,.45],[0.76,.7],[0.92,.88],[1.0,.62],[1.16,.84],[1.24,.5],[1.42,.76],[1.52,.96],[1.7,.65],[1.8,.85],[1.98,1.0],[2.08,.7],[2.2,.9],[-1.2,.62],[-0.35,.7],[0.45,.66],
  [-2.4,.6],[-2.12,.8],[-1.88,.68],[-1.62,.9],[-1.4,.58],[-1.18,.8],[-0.97,.66],[-0.8,.92],[-0.67,.55],[-0.57,.75],[-0.47,.95],[-0.37,.62],[-0.27,.8],[-0.17,.5],[-0.07,.76],[0.03,.92],[0.13,.6],[0.23,.82],[0.33,.55],[0.43,.74],[0.53,.95],[0.63,.62],[0.73,.8],[0.84,.55],[0.95,.74],[1.08,.92],[1.2,.6],[1.34,.84],[1.48,.66],[1.62,.9],[1.76,.72],[1.9,.88],[2.02,.95],[2.14,.8],[-1.0,.98]]

const blueSets = [blueA, blueB, blueC, blueD, blueE, blueF, blueG, blueH]
const pinkSets = [pinkA, pinkB, pinkC, pinkD, pinkE, pinkF, pinkG, pinkH]
const lineSets = [lineA, lineB, lineC, lineD, lineE, lineF, lineG, lineH]

// sector layout (degrees clockwise from 3 o'clock), same rule the Pie uses
const ranges = xMin.map((m, i) => xMax[i] - m)
const degPerUnit = (360 - sectors.length * (GAP_DEG + 2 * PAD_DEG)) / ranges.reduce((a, b) => a + b, 0)
const sectorDeg = ranges.map(r => r * degPerUnit + 2 * PAD_DEG)
const sectorStart: number[] = []
sectorDeg.reduce((acc, d) => { sectorStart.push(acc); return acc + d + GAP_DEG }, 0)

const angleOf = (k: number, x: number) => (sectorStart[k] + PAD_DEG + (x - xMin[k]) * degPerUnit) * Math.PI / 180
const radiusOf = (t: number, v: number) => {
  const lo = trackInner[t] + PAD_R
  const hi = trackOuter[t] - PAD_R
  return lo + v * (hi - lo)
}
const polar = (a: number, r: number) => ({ px: r * Math.cos(a), py: -r * Math.sin(a) })

const pieData = sectors.map((s, i) => ({ name: s, value: sectorDeg[i] }))

const blueData = blueSets.flatMap((set, k) => set.map(([x, y]) => polar(angleOf(k, x), radiusOf(0, y))))
const pinkData = pinkSets.flatMap((set, k) => set.map(([x, y]) => polar(angleOf(k, x), radiusOf(1, y))))
const lineData = lineSets.flatMap((set, k) => set.map(([x, h]) => {
  const a = angleOf(k, x)
  return { ...polar(a, radiusOf(2, 0)), ang: a, len: radiusOf(2, h) - radiusOf(2, 0) }
}))

const tickData = sectors.flatMap((_, k) => {
  const out: any[] = []
  for (let i = Math.ceil(xMin[k] * 5 - 1e-9); i <= Math.floor(xMax[k] * 5 + 1e-9); i++) {
    const a = angleOf(k, i / 5)
    out.push({ ...polar(a, trackOuter[0]), ang: a, major: i % 5 === 0, label: String(i / 5) })
  }
  return out
})

const BLUE = '#1874CD'
const PINK = '#DC5AC8'
const ORANGE = '#D95F02'

const BlueDot = (p: any) => (
  <circle cx={p.cx} cy={p.cy} r={5} fill={BLUE} fillOpacity={0.38} stroke={BLUE} strokeOpacity={0.38} strokeWidth={1} />
)
const PinkDot = (p: any) => (
  <circle cx={p.cx} cy={p.cy} r={10.5} fill={PINK} fillOpacity={0.4} stroke={PINK} strokeOpacity={0.4} strokeWidth={1} />
)
const Stick = (p: any) => {
  const { ang, len } = p.payload
  return <line x1={p.cx} y1={p.cy} x2={p.cx + len * Math.cos(ang)} y2={p.cy + len * Math.sin(ang)} stroke={ORANGE} strokeOpacity={0.45} strokeWidth={1.8} />
}
const Tick = (p: any) => {
  const { ang, major, label } = p.payload
  const ux = Math.cos(ang)
  const uy = Math.sin(ang)
  const len = major ? 7 : 4
  let rot = (((ang * 180) / Math.PI + 90) % 360 + 360) % 360
  if (rot > 90 && rot < 270) rot -= 180
  const lx = p.cx + 16 * ux
  const ly = p.cy + 16 * uy
  return (
    <g>
      <line x1={p.cx} y1={p.cy} x2={p.cx + len * ux} y2={p.cy + len * uy} stroke="#000" strokeWidth={1} />
      {major && (
        <text x={lx} y={ly} transform={`rotate(${rot} ${lx} ${ly})`} textAnchor="middle" dominantBaseline="central"
          fontSize={13} fontFamily="'Liberation Sans', Arial, sans-serif" fill="#000">{label}</text>
      )}
    </g>
  )
}

export default function App() {
  return (
    <div style={{ position: 'relative', width: W, height: H, margin: -8, background: '#fff' }}>
      <div style={{ position: 'absolute', left: 0, top: 0 }}>
        <PieChart width={W} height={H} margin={{ top: 0, right: 0, bottom: 0, left: 0 }}>
          {trackOuter.map((ro, t) => (
            <Pie key={t} data={pieData} dataKey="value" nameKey="name" cx={CX} cy={CY}
              innerRadius={trackInner[t]} outerRadius={ro} startAngle={0} endAngle={-360} paddingAngle={GAP_DEG}
              fill="#fff" stroke="#000" strokeWidth={2} isAnimationActive={false} legendType="none" />
          ))}
        </PieChart>
      </div>
      <div style={{ position: 'absolute', left: 0, top: 0 }}>
        <ScatterChart width={W} height={H} margin={{ top: 0, right: 0, bottom: 0, left: 0 }}>
          <XAxis type="number" dataKey="px" domain={[-W / 2, W / 2]} allowDataOverflow hide height={0} />
          <YAxis type="number" dataKey="py" domain={[-H / 2, H / 2]} allowDataOverflow hide width={0} />
          <Scatter data={blueData} shape={BlueDot} isAnimationActive={false} />
          <Scatter data={pinkData} shape={PinkDot} isAnimationActive={false} />
          <Scatter data={lineData} shape={Stick} isAnimationActive={false} />
          <Scatter data={tickData} shape={Tick} isAnimationActive={false} />
        </ScatterChart>
      </div>
    </div>
  )
}
